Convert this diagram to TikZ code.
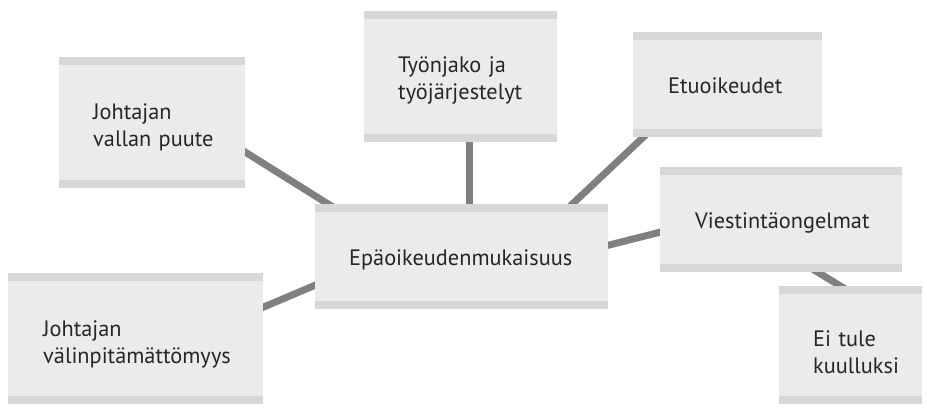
\documentclass[tikz,border=0pt]{standalone}
\usepackage{fontspec}
\setmainfont{PT Sans}
\usetikzlibrary{calc,backgrounds}
\definecolor{boxfill}{HTML}{EBEBEB}
\definecolor{boxband}{HTML}{D6D7D9}
\definecolor{linkgray}{HTML}{808080}
\definecolor{ink}{HTML}{262626}
\begin{document}
\begin{tikzpicture}[x=1pt,y=-1pt,
  card/.style={rectangle, fill=boxfill, inner sep=0pt, anchor=north west,
    path picture={
      \fill[boxband] (path picture bounding box.north west)
        rectangle ([yshift=-8pt]path picture bounding box.north east);
      \fill[boxband] (path picture bounding box.south west)
        rectangle ([yshift=8pt]path picture bounding box.south east);
    }},
  caption/.style={anchor=base west, inner sep=0pt, text width=220pt, align=left,
    text=ink, font=\fontsize{22.3}{27}\selectfont},
  link/.style={draw=linkgray, line width=7pt}
]
\useasboundingbox (0,0) rectangle (927,408);

% boxes
\node[card, minimum width=186pt, minimum height=131pt] (b1) at (59,57) {};
\node[card, minimum width=193pt, minimum height=131pt] (b2) at (364,11) {};
\node[card, minimum width=189pt, minimum height=105pt] (b3) at (633,32) {};
\node[card, minimum width=293pt, minimum height=105pt] (c)  at (315,204) {};
\node[card, minimum width=242pt, minimum height=105pt] (b5) at (660,167) {};
\node[card, minimum width=143pt, minimum height=118pt] (b6) at (779,286) {};
\node[card, minimum width=255pt, minimum height=131pt] (b7) at (8,273) {};

% captions, first baseline a fixed distance below each box top
\node[caption] (t1) at ($(b1.north west)+(34,62)$) {Johtajan\\vallan puute};
\node[caption] (t2) at ($(b2.north west)+(34,61.5)$) {Työnjako ja\\työjärjestelyt};
\node[caption] (t3) at ($(b3.north west)+(35,61)$) {Etuoikeudet};
\node[caption] (tc) at ($(c.north west)+(34,61)$) {Epäoikeudenmukaisuus};
\node[caption] (t5) at ($(b5.north west)+(35,61)$) {Viestintäongelmat};
\node[caption] (t6) at ($(b6.north west)+(34,60.5)$) {Ei tule\\kuulluksi};
\node[caption] (t7) at ($(b7.north west)+(35,63.5)$) {Johtajan\\välinpitämättömyys};

% connectors, tucked under the boxes
\begin{scope}[on background layer]
  \draw[link] ($(b1.east)+(-10,23.2)$) -- ($(c.north west)+(30,10.6)$);
  \draw[link] ($(b7.east)+(-10,-27.3)$) -- ($(c.west)+(10,24.3)$);
  \draw[link] ($(b2.south)+(9,-5)$) -- ($(c.north)+(8,6)$);
  \draw[link] ($(c.north east)+(-42,5.6)$) -- ($(b3.south west)+(16,-5.6)$);
  \draw[link] ($(c.east)+(-10,-9)$) -- ($(b5.west)+(10,10)$);
  \draw[link] ($(b5.south)+(32,-3)$) -- ($(b6.north)+(-5.5,3)$);
\end{scope}
\end{tikzpicture}
\end{document}
